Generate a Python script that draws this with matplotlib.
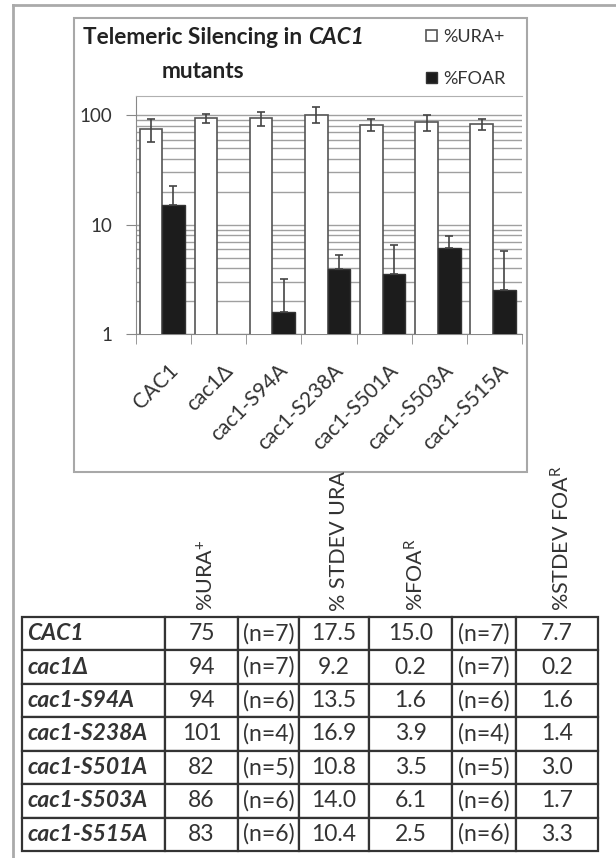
import matplotlib
matplotlib.use('Agg')
import matplotlib.pyplot as plt
import numpy as np
from matplotlib.patches import Rectangle
from matplotlib.lines import Line2D
from matplotlib.table import Table
from matplotlib.transforms import ScaledTranslation

plt.rcParams['font.family'] = ['Lato', 'DejaVu Sans']
plt.rcParams['mathtext.fontset'] = 'custom'
plt.rcParams['mathtext.rm'] = 'Lato'
plt.rcParams['mathtext.it'] = 'Lato:italic'
plt.rcParams['mathtext.bf'] = 'Lato:bold'

# data
strains = ['CAC1', 'cac1Δ', 'cac1-S94A', 'cac1-S238A', 'cac1-S501A', 'cac1-S503A', 'cac1-S515A']
ura = [75, 94, 94, 101, 82, 86, 83]
ura_n = [7, 7, 6, 4, 5, 6, 6]
ura_sd = [17.5, 9.2, 13.5, 16.9, 10.8, 14.0, 10.4]
foa = [15.0, 0.2, 1.6, 3.9, 3.5, 6.1, 2.5]
foa_n = [7, 7, 6, 4, 5, 6, 6]
foa_sd = [7.7, 0.2, 1.6, 1.4, 3.0, 1.7, 3.3]
headers = ['%URA$^{+}$', '% STDEV URA', '%FOA$^{\\mathrm{R}}$', '%STDEV FOA$^{\\mathrm{R}}$']
header_cols = [1, 3, 4, 6]

W, H = 616, 858
fig = plt.figure(figsize=(W / 100, H / 100), dpi=100)

def fx(px):
    return px / W

def fy(py):
    return 1 - py / H

# outer frame + chart box
fig.add_artist(Line2D([fx(13), fx(615)], [fy(5), fy(5)], color='#aaaaaa', lw=2))
fig.add_artist(Line2D([fx(13), fx(13)], [fy(5), fy(858)], color='#aaaaaa', lw=2))
fig.add_artist(Rectangle((fx(74), fy(472)), fx(527) - fx(74), (472 - 18) / H,
                         fill=False, edgecolor='#a8a8a8', lw=1.5))

ax = fig.add_axes([fx(136), fy(334), fx(522) - fx(136), (334 - 96) / H])
x = np.arange(len(strains))
bw = 0.41
ekw = dict(ecolor='#444444', elinewidth=1.2, capsize=2.6, capthick=1.2)
b1 = ax.bar(x + 0.475 - bw / 2, ura, bw, yerr=ura_sd, color='white', edgecolor='#555555',
            lw=1.2, error_kw=ekw, zorder=3)
b2 = ax.bar(x + 0.475 + bw / 2, foa, bw, yerr=[np.zeros(len(foa)), foa_sd], color='#1c1c1c',
            edgecolor='#333333', lw=1.0, error_kw=ekw, zorder=3)
ax.set_yscale('log')
ax.set_ylim(1, 150)
ax.set_xlim(0, len(strains))
ax.yaxis.grid(True, which='both', color='#a0a0a0', lw=1)
ax.set_axisbelow(True)
ax.set_yticks([1, 10, 100])
ax.set_yticklabels(['1', '10', '100'])
ax.tick_params(axis='y', which='major', length=7, color='#888888', labelsize=13.5,
               labelcolor='#333333', pad=10)
ax.tick_params(axis='y', which='minor', length=0)
ax.set_xticks(x + 0.5)
ax.set_xticks(np.arange(len(strains) + 1), minor=True)
ax.set_xticklabels(strains, rotation=45, ha='right', va='top', rotation_mode='anchor')
ax.tick_params(axis='x', which='major', length=0, pad=19, labelsize=15, labelcolor='#333333')
ax.tick_params(axis='x', which='minor', length=7, color='#888888')
for lab in ax.get_xticklabels():
    lab.set_transform(lab.get_transform() + ScaledTranslation(4 / 100, 0, fig.dpi_scale_trans))
for s in ['left', 'bottom']:
    ax.spines[s].set_color('#888888')
ax.spines['top'].set_color('#b0b0b0')
ax.spines['right'].set_visible(False)

# title (CAC1 in italic)
t1 = fig.text(fx(83), fy(38), 'Telemeric Silencing in ', fontsize=16.3, fontweight='bold',
              color='#222222', va='center', ha='left')
fig.canvas.draw()
bb = t1.get_window_extent()
fig.text(bb.x1 / W, fy(38), 'CAC1', fontsize=16.3, fontweight='bold', fontstyle='italic',
         color='#222222', va='center', ha='left')
fig.text(fx(203), fy(72), 'mutants', fontsize=16.3, fontweight='bold', color='#222222',
         va='center', ha='center')

fig.legend(handles=[b1, b2], labels=['%URA+', '%FOAR'], loc='center left',
           bbox_to_anchor=(fx(410), fy(58)), frameon=False, fontsize=13,
           handlelength=0.6, handleheight=0.6, handletextpad=0.35, labelspacing=1.45,
           labelcolor='#333333')

# table
col_px = [22, 165, 238, 299, 369, 452, 516, 598]
t_top, t_bot = 617, 851
ax_t = fig.add_axes([fx(22), fy(t_bot), fx(598) - fx(22), (t_bot - t_top) / H])
ax_t.axis('off')
tbl = Table(ax_t, bbox=[0, 0, 1, 1])
total = col_px[-1] - col_px[0]
nrow = len(strains)
for r in range(nrow):
    cells = [strains[r], '%d' % ura[r], '(n=%d)' % ura_n[r], '%.1f' % ura_sd[r],
             '%.1f' % foa[r], '(n=%d)' % foa_n[r], '%.1f' % foa_sd[r]]
    for c, txt in enumerate(cells):
        w = (col_px[c + 1] - col_px[c]) / total
        cell = tbl.add_cell(r, c, w, 1 / nrow, text=txt, loc='left' if c == 0 else 'center')
        cell.set_edgecolor('#333333')
        cell.set_linewidth(1.6)
        cell.get_text().set_color('#333333')
        if c == 0:
            cell.PAD = 0.035
            cell.get_text().set_fontweight('bold')
            cell.get_text().set_fontstyle('italic')
tbl.auto_set_font_size(False)
tbl.set_fontsize(16.5)
ax_t.add_table(tbl)

for h, c in zip(headers, header_cols):
    cx = (col_px[c] + col_px[c + 1]) / 2 + 5
    fig.text(fx(cx), fy(611), h, rotation=90, ha='center', va='bottom', fontsize=15.5,
             color='#333333')

fig.savefig('out.png', dpi=100)
